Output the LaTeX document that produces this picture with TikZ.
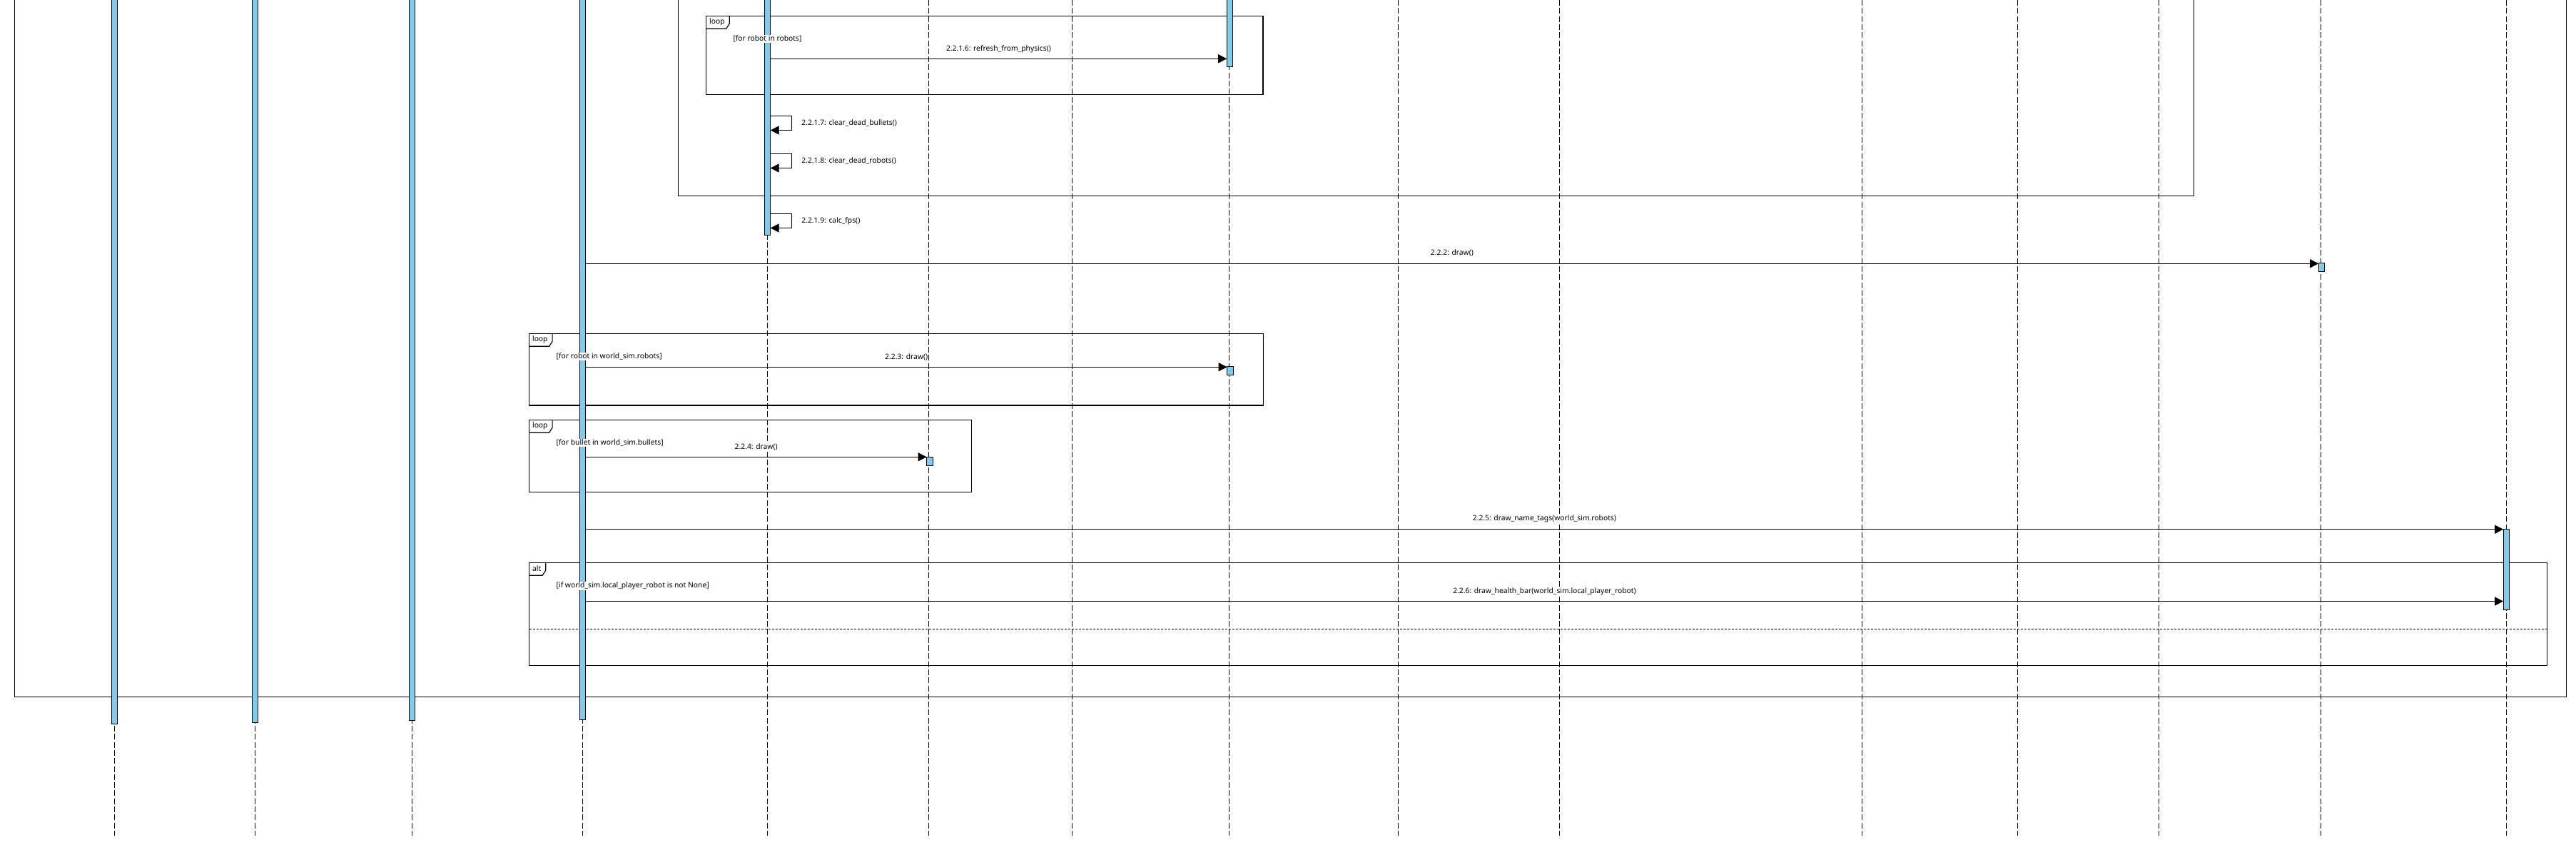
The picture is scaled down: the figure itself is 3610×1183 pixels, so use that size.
\documentclass[tikz,border=0pt]{standalone}
\usepackage{fontspec}
\setmainfont{Noto Sans}
\usetikzlibrary{arrows.meta}
\definecolor{barblue}{RGB}{126,203,240}
\newcommand\seqtab[5]{% name, left x, top y, width, text
  \draw[tabline] (#2,#3+18) -- (#2+#4-4.6,#3+18) -- (#2+#4,#3+11) -- (#2+#4,#3);
  \node[tablbl] (#1) at (#2+4.5,#3+8.5) {#5};}
\begin{document}
\begin{tikzpicture}[x=1pt,y=-1pt,
  lifeline/.style={line width=0.85pt, dash pattern=on 8pt off 3.3pt},
  actbar/.style={draw=black, fill=barblue, line width=1pt, minimum width=8.4pt, inner sep=0pt, outer sep=0pt, anchor=north},
  msg/.style={line width=1.3pt, -{Triangle[length=12pt,width=12pt]}},
  selfmsg/.style={line width=1.3pt, -{Triangle[length=12pt,width=12pt]}},
  frame/.style={line width=1.5pt},
  tabline/.style={line width=1.2pt},
  sepline/.style={line width=1.3pt, dash pattern=on 3pt off 2pt},
  lbl/.style={font=\fontsize{10.3}{12}\selectfont, fill=white, inner sep=1pt},
  guard/.style={font=\fontsize{10.3}{12}\selectfont, fill=white, inner sep=1pt, anchor=west},
  tablbl/.style={font=\fontsize{10.3}{12}\selectfont\bfseries, inner sep=0pt, anchor=west}]
\useasboundingbox (0,0) rectangle (3610,1183);
\clip (0,0) rectangle (3610,1183);
\fill[white] (0,0) rectangle (3610,1183);

% ---- combined fragments ----
\draw[frame] (20.5,-20) rectangle (3596.5,976.3);
\draw[frame] (950.4,-20) rectangle (3074.5,274.3);
\draw[frame] (989.5,22.3) rectangle (1770,132.3);
\seqtab{tabC}{989.5}{22.3}{32.7}{loop}
\draw[frame] (741.4,467.3) rectangle (1770.5,568);
\seqtab{tabD}{741.4}{467.3}{32.7}{loop}
\draw[frame] (741.4,588.3) rectangle (1361.5,689.3);
\seqtab{tabE}{741.4}{588.3}{32.7}{loop}
\draw[frame] (741.5,788.3) rectangle (3569.4,932.3);
\seqtab{tabF}{741.5}{788.3}{23.2}{alt}
\coordinate (sepL) at (741.5,881.3);
\coordinate (sepR) at (3569.4,881.3);
\draw[sepline] (sepL) -- (sepR);

% ---- lifelines ----
\foreach \i/\x in {1/160.3,2/357.5,3/577.5,4/816.6,5/1075.5,6/1301.5,7/1502.7,8/1722.5,
                   9/1959.6,10/2185.4,11/2609.8,12/2827.2,13/3025.1,14/3252.8,15/3512.3}{
  \coordinate (Lt\i) at (\x,0);
  \coordinate (Lb\i) at (\x,1170.5);
  \draw[lifeline] (Lt\i) -- (Lb\i);
}

% ---- activation bars ----
\node[actbar, minimum height=1036.7pt] (B1)  at (160.3,-22) {};
\node[actbar, minimum height=1034.3pt] (B2)  at (357.5,-22) {};
\node[actbar, minimum height=1031.7pt] (B3)  at (577.5,-22) {};
\node[actbar, minimum height=1030.3pt] (B4)  at (816.6,-22) {};
\node[actbar, minimum height=351.3pt]  (B5)  at (1075.5,-22) {};
\node[actbar, minimum height=115.3pt]  (B8)  at (1723.4,-22) {};
\node[actbar, minimum height=12.4pt]   (B8b) at (1723.8,513.3) {};
\node[actbar, minimum height=12.3pt]   (B6)  at (1302.8,640) {};
\node[actbar, minimum height=12pt]     (B14) at (3253.3,368.3) {};
\node[actbar, minimum height=112.6pt]  (B15) at (3512.3,741.7) {};

% ---- message levels ----
\coordinate (y2216) at (0,82.3);
\coordinate (y2217) at (0,162.5);
\coordinate (y2218) at (0,215.5);
\coordinate (y2219) at (0,299.5);
\coordinate (y222) at (0,369.3);
\coordinate (y223) at (0,514.3);
\coordinate (y224) at (0,640.3);
\coordinate (y225) at (0,741.7);
\coordinate (y226) at (0,842.5);

% ---- messages ----
\draw[msg] (B5.east |- y2216) -- (B8.west |- y2216)
  node[lbl, midway, yshift=14pt] {2.2.1.6: refresh\_from\_physics()};
\draw[selfmsg] (B5.east |- y2217) -- ++(30,0) -- ++(0,20)
  node[lbl, midway, anchor=west, xshift=12pt] {2.2.1.7: clear\_dead\_bullets()} -- ++(-30,0);
\draw[selfmsg] (B5.east |- y2218) -- ++(30,0) -- ++(0,20)
  node[lbl, midway, anchor=west, xshift=12pt] {2.2.1.8: clear\_dead\_robots()} -- ++(-30,0);
\draw[selfmsg] (B5.east |- y2219) -- ++(30,0) -- ++(0,20)
  node[lbl, midway, anchor=west, xshift=12pt] {2.2.1.9: calc\_fps()} -- ++(-30,0);
\draw[msg] (B4.east |- y222) -- (B14.west |- y222)
  node[lbl, midway, yshift=14.5pt] {2.2.2: draw()};
\draw[msg] (B4.east |- y223) -- (B8b.west |- y223)
  node[lbl, midway, yshift=14pt] {2.2.3: draw()};
\draw[msg] (B4.east |- y224) -- (B6.west |- y224)
  node[lbl, midway, yshift=14pt] {2.2.4: draw()};
\draw[msg] (B4.east |- y225) -- (B15.west |- y225)
  node[lbl, midway, yshift=14.5pt] {2.2.5: draw\_name\_tags(world\_sim.robots)};
\draw[msg] (B4.east |- y226) -- (B15.west |- y226)
  node[lbl, midway, yshift=13.5pt] {2.2.6: draw\_health\_bar(world\_sim.local\_player\_robot)};

% ---- guards ----
\node[guard] (gC) at (1026.3,54.3) {[for robot in robots]};
\node[guard] (gD) at (778.5,499.7) {[for robot in world\_sim.robots]};
\node[guard] (gE) at (778.5,620.3) {[for bullet in world\_sim.bullets]};
\node[guard] (gF) at (778.5,820.7) {[if world\_sim.local\_player\_robot is not None]};
\end{tikzpicture}
\end{document}
